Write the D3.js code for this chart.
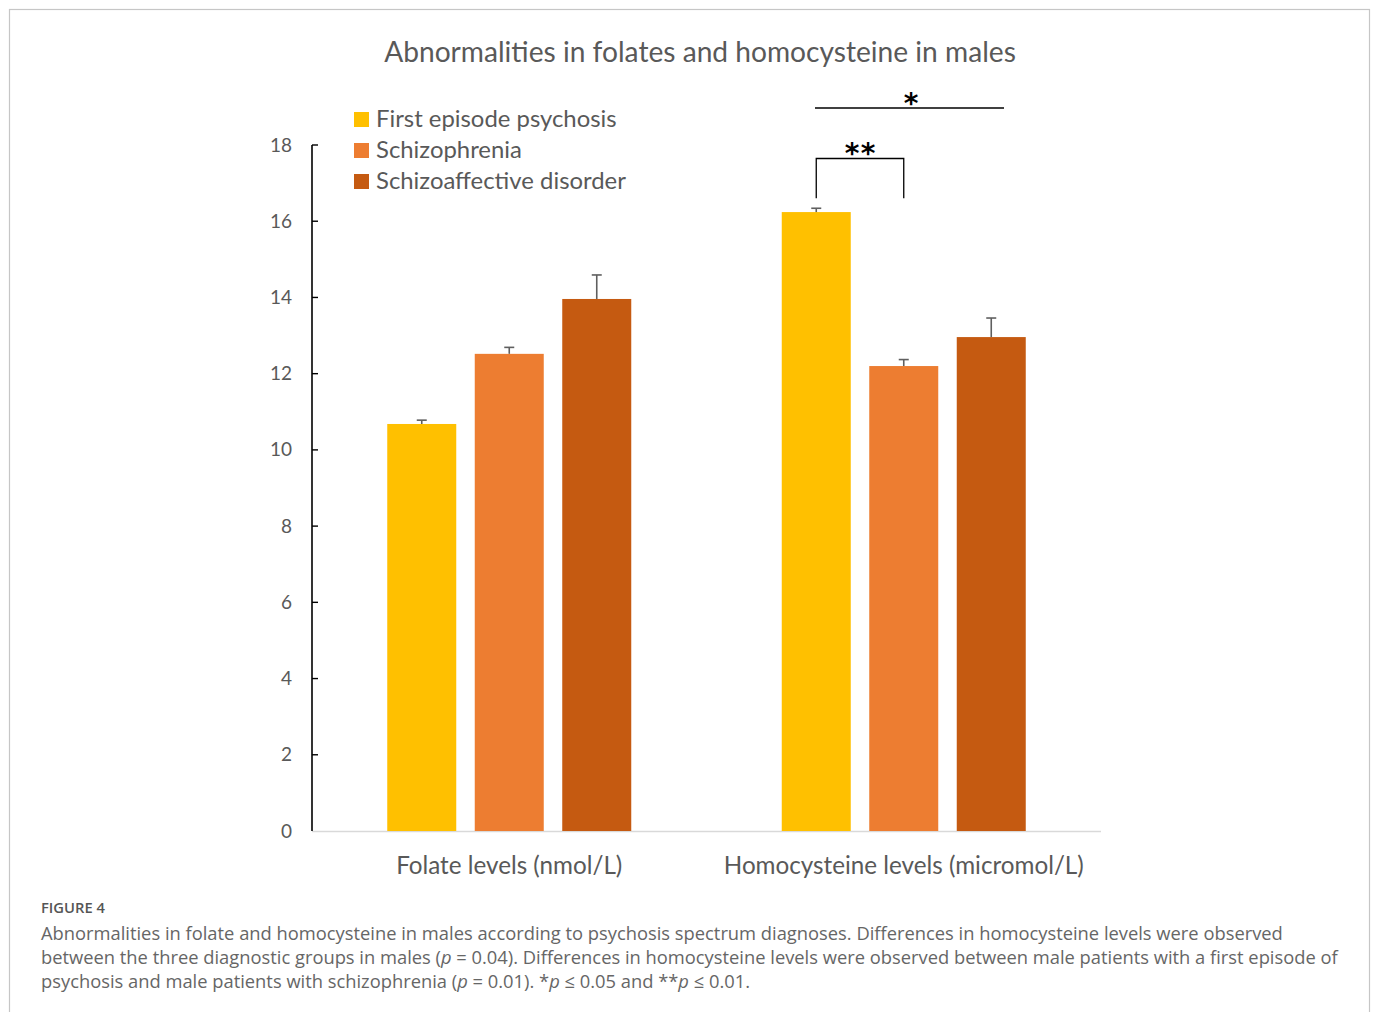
<!DOCTYPE html>
<html>
<head>
<meta charset="utf-8">
<script src="https://cdn.jsdelivr.net/npm/d3@7/dist/d3.min.js"></script>
<style>
  html, body { margin: 0; padding: 0; background: #fff; }
  svg { display: block; }
</style>
</head>
<body>
<svg id="chart" width="1375" height="1012"></svg>
<script>
// Measured groups and diagnostic series
const categories = ["Folate levels (nmol/L)", "Homocysteine levels (micromol/L)"];
const seriesNames = ["First episode psychosis", "Schizophrenia", "Schizoaffective disorder"];
const seriesColors = ["#FFC000", "#ED7D31", "#C55A11"];
// Mean values per series (one entry per category)
const firstEpisode = [10.68, 16.24];
const schizophrenia = [12.52, 12.20];
const schizoaffective = [13.96, 12.96];
// Upper error (SEM) per series
const errFirstEpisode = [0.10, 0.10];
const errSchizophrenia = [0.17, 0.17];
const errSchizoaffective = [0.63, 0.50];
const yTicks = [0, 2, 4, 6, 8, 10, 12, 14, 16, 18];

const title = "Abnormalities in folates and homocysteine in males";

const svg = d3.select("#chart");

// outer frame of the figure panel
svg.append("rect")
  .attr("x", 9.5).attr("y", 9.5)
  .attr("width", 1360).attr("height", 1012)
  .attr("fill", "none").attr("stroke", "#c6c6c6").attr("stroke-width", 1.2);

const plot = { left: 312, right: 1101, top: 145, bottom: 831 };

const x0 = d3.scaleBand().domain(categories).range([plot.left, plot.right]).paddingInner(0).paddingOuter(0);
const x1 = d3.scaleBand().domain(seriesNames).range([0, x0.bandwidth()]).paddingInner(0.2114).paddingOuter(0.86);
const y = d3.scaleLinear().domain([0, 18]).range([plot.bottom, plot.top]);

const fontMain = "Lato, 'Open Sans', sans-serif";
const txtColor = "#595959";

// scale a text element's font-size so it spans a given width
function fit(sel, width) {
  const node = sel.node();
  const fs = parseFloat(sel.attr("font-size"));
  const w = node.getComputedTextLength();
  const nfs = fs * width / w;
  sel.attr("font-size", nfs);
  return nfs;
}

// title
const t = svg.append("text")
  .attr("x", 700).attr("y", 62)
  .attr("text-anchor", "middle")
  .attr("font-family", fontMain).attr("font-size", 26)
  .attr("fill", txtColor).text(title);
fit(t, 632);

// data table for bars
const values = [firstEpisode, schizophrenia, schizoaffective];
const errs = [errFirstEpisode, errSchizophrenia, errSchizoaffective];
const rows = [];
categories.forEach((c, ci) => {
  seriesNames.forEach((s, si) => {
    rows.push({ cat: c, series: s, value: values[si][ci], err: errs[si][ci], color: seriesColors[si] });
  });
});

// x axis baseline
svg.append("line")
  .attr("x1", plot.left).attr("x2", plot.right)
  .attr("y1", plot.bottom + 0.5).attr("y2", plot.bottom + 0.5)
  .attr("stroke", "#d9d9d9").attr("stroke-width", 1.5);

// bars
svg.append("g").selectAll("rect").data(rows).join("rect")
  .attr("x", d => x0(d.cat) + x1(d.series))
  .attr("y", d => y(d.value))
  .attr("width", x1.bandwidth())
  .attr("height", d => y(0) - y(d.value))
  .attr("fill", d => d.color);

// upper error bars
const eg = svg.append("g").attr("stroke", "#5f5f5f").attr("stroke-width", 1.6);
rows.forEach(d => {
  const cx = x0(d.cat) + x1(d.series) + x1.bandwidth() / 2;
  eg.append("line").attr("x1", cx).attr("x2", cx).attr("y1", y(d.value)).attr("y2", y(d.value + d.err));
  eg.append("line").attr("x1", cx - 5).attr("x2", cx + 5).attr("y1", y(d.value + d.err)).attr("y2", y(d.value + d.err));
});

// y axis: black line with inward ticks
const yAxis = d3.axisLeft(y).tickValues(yTicks).tickSize(0).tickPadding(20);
const ya = svg.append("g").attr("transform", `translate(${plot.left},0)`).call(yAxis);
ya.select(".domain").remove();
ya.selectAll("text").attr("font-family", fontMain).attr("font-size", 19).attr("fill", txtColor);
svg.append("line").attr("x1", plot.left).attr("x2", plot.left)
  .attr("y1", plot.top).attr("y2", plot.bottom).attr("stroke", "#000").attr("stroke-width", 1.6);
svg.append("g").selectAll("line").data(yTicks.slice(1)).join("line")
  .attr("x1", plot.left).attr("x2", plot.left + 6)
  .attr("y1", d => y(d)).attr("y2", d => y(d))
  .attr("stroke", "#000").attr("stroke-width", 1.4);

// category labels
const catLabels = svg.append("g").selectAll("text").data(categories).join("text")
  .attr("x", d => x0(d) + x0.bandwidth() / 2)
  .attr("y", 874)
  .attr("text-anchor", "middle")
  .attr("font-family", fontMain).attr("font-size", 22)
  .attr("fill", txtColor).text(d => d);
const catFs = fit(d3.select(catLabels.nodes()[1]), 360);
catLabels.attr("font-size", catFs);

// legend
const leg = svg.append("g");
const legRows = leg.selectAll("g").data(seriesNames).join("g")
  .attr("transform", (d, i) => `translate(354, ${112 + i * 31})`);
legRows.append("rect").attr("width", 15).attr("height", 15).attr("fill", (d, i) => seriesColors[i]);
const legText = legRows.append("text")
  .attr("x", 22).attr("y", 15)
  .attr("font-family", fontMain).attr("font-size", 22)
  .attr("fill", txtColor).text(d => d);
const legFs = fit(d3.select(legText.nodes()[2]), 250);
legText.attr("font-size", legFs);

// significance markers
const bx1 = x0(categories[1]) + x1(seriesNames[0]) + x1.bandwidth() / 2;
const bx2 = x0(categories[1]) + x1(seriesNames[1]) + x1.bandwidth() / 2;
const sig = svg.append("g").attr("stroke", "#000").attr("stroke-width", 1.3).attr("fill", "none");
sig.append("line").attr("x1", 815).attr("x2", 1004).attr("y1", 108).attr("y2", 108);
sig.append("path").attr("d", `M${bx1},${y(16.6)}V158.5H${bx2}V${y(16.6)}`);
const starFont = "'DejaVu Sans', sans-serif";
[[911, 113], [852, 163], [868, 163]].forEach(([sx, sy]) => {
  svg.append("text").attr("x", sx).attr("y", sy).attr("text-anchor", "middle")
    .attr("font-family", starFont).attr("font-size", 28).attr("font-weight", "bold")
    .attr("fill", "#000").text("*");
});

// caption
const capFont = "'Open Sans', 'Noto Sans', sans-serif";
const capColor = "#666";
const fig = svg.append("text").attr("x", 41).attr("y", 913)
  .attr("font-family", capFont).attr("font-size", 13.5).attr("font-weight", 600)
  .attr("fill", "#555").text("FIGURE 4");
fit(fig, 64);

const capLines = [
  [["Abnormalities in folate and homocysteine in males according to psychosis spectrum diagnoses. Differences in homocysteine levels were observed", false]],
  [["between the three diagnostic groups in males (", false], ["p", true], [" = 0.04). Differences in homocysteine levels were observed between male patients with a first episode of", false]],
  [["psychosis and male patients with schizophrenia (", false], ["p", true], [" = 0.01). *", false], ["p", true], [" \u2264 0.05 and **", false], ["p", true], [" \u2264 0.01.", false]]
];
const capTexts = svg.append("g").selectAll("text").data(capLines).join("text")
  .attr("x", 41).attr("y", (d, i) => 940 + i * 24)
  .attr("font-family", capFont).attr("font-size", 17)
  .attr("fill", capColor);
capTexts.each(function(parts) {
  const el = d3.select(this);
  parts.forEach(([s, it]) => el.append("tspan").attr("font-style", it ? "italic" : null).text(s));
});
const capFs = fit(d3.select(capTexts.nodes()[0]), 1243);
capTexts.attr("font-size", capFs);
</script>
</body>
</html>
